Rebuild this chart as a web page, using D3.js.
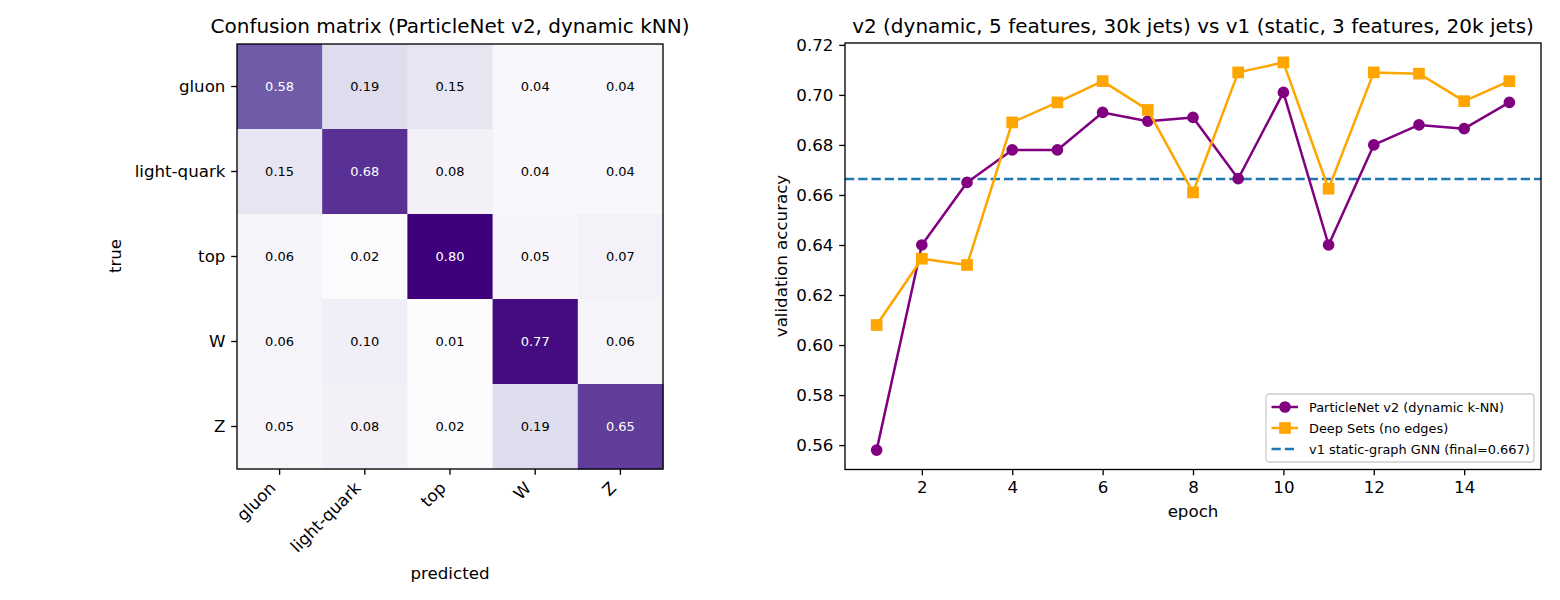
<html>
<head>
<script src="https://d3js.org/d3.v7.min.js"></script>
<style>
  body { margin: 0; background: #fff; }
  svg { font-family: "DejaVu Sans", sans-serif; }
</style>
</head>
<body>
<svg id="svg" width="1560" height="600"></svg>
<script>
// ---- data ----
var classes = ["gluon", "light-quark", "top", "W", "Z"];
var cmRows = [
  [0.58, 0.19, 0.15, 0.04, 0.04],
  [0.15, 0.68, 0.08, 0.04, 0.04],
  [0.06, 0.02, 0.80, 0.05, 0.07],
  [0.06, 0.10, 0.01, 0.77, 0.06],
  [0.05, 0.08, 0.02, 0.19, 0.65]
];
var epochs = [1, 2, 3, 4, 5, 6, 7, 8, 9, 10, 11, 12, 13, 14, 15];
var particleNet = [0.558, 0.640, 0.665, 0.678, 0.678, 0.693, 0.6895, 0.691, 0.6665, 0.701, 0.640, 0.680, 0.688, 0.6865, 0.697];
var deepSets = [0.608, 0.6345, 0.632, 0.689, 0.697, 0.7055, 0.694, 0.661, 0.709, 0.713, 0.6625, 0.709, 0.7085, 0.6975, 0.7055];
var v1Final = 0.6664;
var xTicks = [2, 4, 6, 8, 10, 12, 14];
var yTicks = [0.56, 0.58, 0.60, 0.62, 0.64, 0.66, 0.68, 0.70, 0.72];
var purples = ["#fcfbfd", "#efedf5", "#dadaeb", "#bcbddc", "#9e9ac8", "#807dba", "#6a51a3", "#54278f", "#3f007d"];

var svg = d3.select("#svg");
svg.append("rect").attr("width", 1560).attr("height", 600).attr("fill", "#fff");

var tickLen = 5.8, tickPad = 5.8;

function styleAxis(g, size) {
  g.selectAll("path.domain").remove();
  g.selectAll(".tick line").attr("stroke", "#000").attr("stroke-width", 1.33);
  g.selectAll(".tick text").attr("font-size", size).attr("fill", "#000")
    .attr("font-family", "DejaVu Sans, sans-serif");
}

// ---- left: confusion matrix ----
var hm = {left: 237, right: 663, top: 44, bottom: 469};
var xb = d3.scaleBand().domain(classes).range([hm.left, hm.right]);
var yb = d3.scaleBand().domain(classes).range([hm.top, hm.bottom]);
var flat = [];
cmRows.forEach(function(row, i) {
  row.forEach(function(v, j) { flat.push({t: classes[i], p: classes[j], v: v}); });
});
var vmin = d3.min(flat, function(d) { return d.v; });
var vmax = d3.max(flat, function(d) { return d.v; });
var color = d3.scaleLinear()
  .domain(d3.range(9).map(function(i) { return vmin + i / 8 * (vmax - vmin); }))
  .range(purples).interpolate(d3.interpolateRgb);

svg.append("g").selectAll("rect").data(flat).join("rect")
  .attr("x", function(d) { return xb(d.p); })
  .attr("y", function(d) { return yb(d.t); })
  .attr("width", xb.bandwidth() + 0.5)
  .attr("height", yb.bandwidth() + 0.5)
  .attr("fill", function(d) { return color(d.v); });

svg.append("g").selectAll("text").data(flat).join("text")
  .attr("x", function(d) { return xb(d.p) + xb.bandwidth() / 2; })
  .attr("y", function(d) { return yb(d.t) + yb.bandwidth() / 2; })
  .attr("dy", "0.35em")
  .attr("text-anchor", "middle")
  .attr("font-size", 13)
  .attr("fill", function(d) { return d.v > vmax / 2 ? "#fff" : "#000"; })
  .text(function(d) { return d.v.toFixed(2); });

svg.append("rect").attr("x", hm.left).attr("y", hm.top)
  .attr("width", hm.right - hm.left).attr("height", hm.bottom - hm.top)
  .attr("fill", "none").attr("stroke", "#000").attr("stroke-width", 1.33);

var hx = svg.append("g").attr("transform", "translate(0," + hm.bottom + ")")
  .call(d3.axisBottom(xb).tickSize(tickLen).tickPadding(tickPad));
styleAxis(hx, 16.67);
hx.selectAll(".tick text")
  .attr("text-anchor", "end")
  .attr("y", 0).attr("dy", 0)
  .attr("transform", "translate(-3,20) rotate(-45)");

var hy = svg.append("g").attr("transform", "translate(" + hm.left + ",0)")
  .call(d3.axisLeft(yb).tickSize(tickLen).tickPadding(tickPad));
styleAxis(hy, 16.67);

svg.append("text").attr("x", (hm.left + hm.right) / 2).attr("y", 33)
  .attr("text-anchor", "middle").attr("font-size", 20)
  .text("Confusion matrix (ParticleNet v2, dynamic kNN)");
svg.append("text").attr("x", (hm.left + hm.right) / 2).attr("y", 579)
  .attr("text-anchor", "middle").attr("font-size", 16.67).text("predicted");
svg.append("text").attr("transform", "translate(121,256) rotate(-90)")
  .attr("text-anchor", "middle").attr("font-size", 16.67).text("true");

// ---- right: accuracy curves ----
var ax = {left: 845, right: 1541, top: 43, bottom: 469.5};
var allY = particleNet.concat(deepSets).concat([v1Final]);
var yLo = d3.min(allY), yHi = d3.max(allY), yPad = (yHi - yLo) * 0.05;
var xPad = (d3.max(epochs) - d3.min(epochs)) * 0.05;
var x = d3.scaleLinear().domain([d3.min(epochs) - xPad, d3.max(epochs) + xPad]).range([ax.left, ax.right]);
var y = d3.scaleLinear().domain([yLo - yPad, yHi + yPad]).range([ax.bottom, ax.top]);

var gx = svg.append("g").attr("transform", "translate(0," + ax.bottom + ")")
  .call(d3.axisBottom(x).tickValues(xTicks).tickFormat(d3.format("d")).tickSize(tickLen).tickPadding(tickPad));
styleAxis(gx, 16.67);
var gy = svg.append("g").attr("transform", "translate(" + ax.left + ",0)")
  .call(d3.axisLeft(y).tickValues(yTicks).tickFormat(d3.format(".2f")).tickSize(tickLen).tickPadding(tickPad));
styleAxis(gy, 16.67);

var plot = svg.append("g");
plot.append("line")
  .attr("x1", ax.left).attr("x2", ax.right)
  .attr("y1", y(v1Final)).attr("y2", y(v1Final))
  .attr("stroke", "#1f77b4").attr("stroke-width", 2.5)
  .attr("stroke-dasharray", "9.25,4");

var line = d3.line()
  .x(function(d, i) { return x(epochs[i]); })
  .y(function(d) { return y(d); });

plot.append("path").datum(particleNet).attr("d", line)
  .attr("fill", "none").attr("stroke", "purple").attr("stroke-width", 2.5).attr("stroke-linejoin", "round");
plot.selectAll("circle.pn").data(particleNet).join("circle").attr("class", "pn")
  .attr("cx", function(d, i) { return x(epochs[i]); })
  .attr("cy", function(d) { return y(d); })
  .attr("r", 5).attr("fill", "purple").attr("stroke", "purple").attr("stroke-width", 1.67);

plot.append("path").datum(deepSets).attr("d", line)
  .attr("fill", "none").attr("stroke", "orange").attr("stroke-width", 2.5).attr("stroke-linejoin", "round");
plot.selectAll("rect.ds").data(deepSets).join("rect").attr("class", "ds")
  .attr("x", function(d, i) { return x(epochs[i]) - 5; })
  .attr("y", function(d) { return y(d) - 5; })
  .attr("width", 10).attr("height", 10)
  .attr("fill", "orange").attr("stroke", "orange").attr("stroke-width", 1.67);

svg.append("rect").attr("x", ax.left).attr("y", ax.top)
  .attr("width", ax.right - ax.left).attr("height", ax.bottom - ax.top)
  .attr("fill", "none").attr("stroke", "#000").attr("stroke-width", 1.33);

svg.append("text").attr("x", (ax.left + ax.right) / 2).attr("y", 33)
  .attr("text-anchor", "middle").attr("font-size", 20)
  .text("v2 (dynamic, 5 features, 30k jets) vs v1 (static, 3 features, 20k jets)");
svg.append("text").attr("x", (ax.left + ax.right) / 2).attr("y", 517)
  .attr("text-anchor", "middle").attr("font-size", 16.67).text("epoch");
svg.append("text").attr("transform", "translate(787,256) rotate(-90)")
  .attr("text-anchor", "middle").attr("font-size", 16.67).text("validation accuracy");

// legend
var legendItems = [
  {label: "ParticleNet v2 (dynamic k-NN)", color: "purple", marker: "circle", dash: null},
  {label: "Deep Sets (no edges)", color: "orange", marker: "square", dash: null},
  {label: "v1 static-graph GNN (final=0.667)", color: "#1f77b4", marker: null, dash: "9.25,4"}
];
var lg = svg.append("g").attr("transform", "translate(1266,394)");
lg.append("rect").attr("width", 268).attr("height", 68).attr("rx", 3)
  .attr("fill", "#fff").attr("fill-opacity", 0.8).attr("stroke", "#cccccc").attr("stroke-width", 1.3);
var li = lg.selectAll("g.item").data(legendItems).join("g").attr("class", "item")
  .attr("transform", function(d, i) { return "translate(0," + (13 + i * 21) + ")"; });
li.append("line").attr("x1", 5.5).attr("x2", 32)
  .attr("stroke", function(d) { return d.color; }).attr("stroke-width", 2.5)
  .attr("stroke-dasharray", function(d) { return d.dash; });
li.filter(function(d) { return d.marker === "circle"; }).append("circle")
  .attr("cx", 19).attr("r", 5).attr("fill", "purple").attr("stroke", "purple").attr("stroke-width", 1.67);
li.filter(function(d) { return d.marker === "square"; }).append("rect")
  .attr("x", 14).attr("y", -5).attr("width", 10).attr("height", 10)
  .attr("fill", "orange").attr("stroke", "orange").attr("stroke-width", 1.67);
li.append("text").attr("x", 43).attr("dy", "0.35em").attr("font-size", 12.9)
  .text(function(d) { return d.label; });
</script>
</body>
</html>
